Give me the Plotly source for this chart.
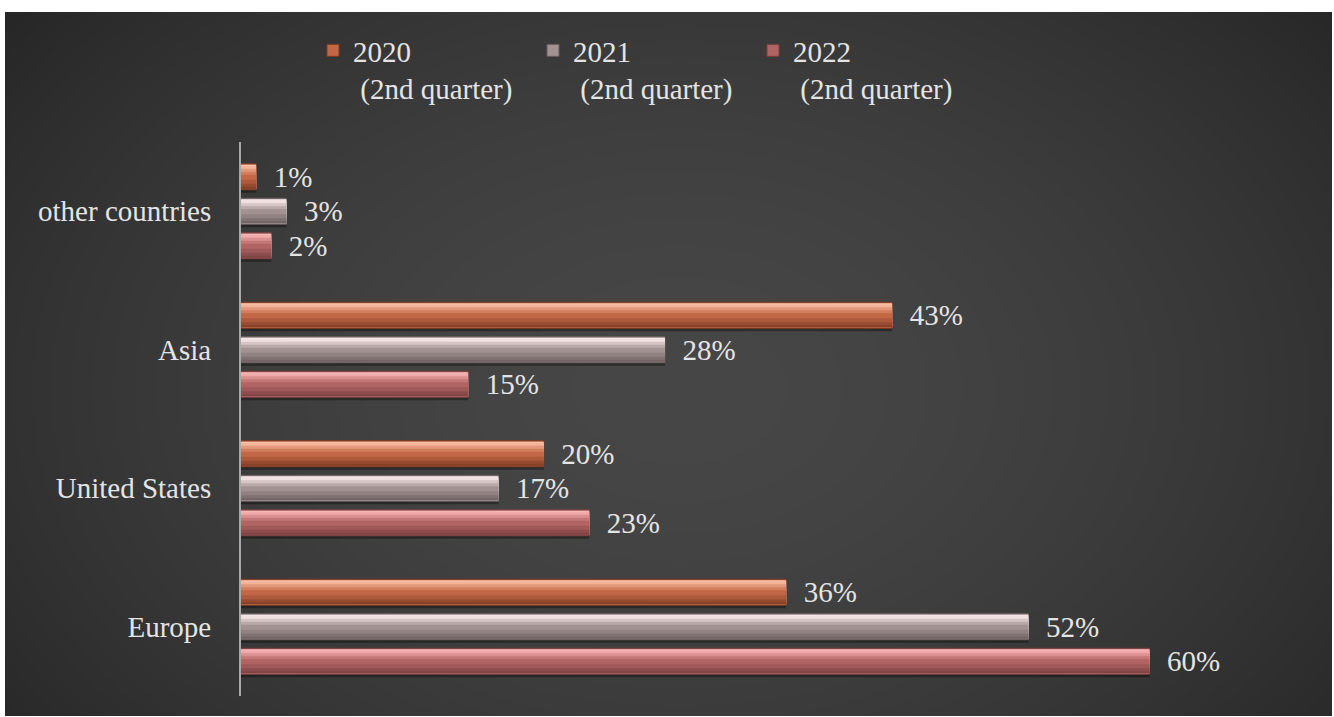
import plotly.graph_objects as go

# ---- data -------------------------------------------------------------
categories = ["Europe", "United States", "Asia", "other countries"]
series_names = ["2020<br>\u00a0(2nd quarter)",
                "2021<br>\u00a0(2nd quarter)",
                "2022<br>\u00a0(2nd quarter)"]
v2020 = [36, 20, 43, 1]
v2021 = [52, 17, 28, 3]
v2022 = [60, 23, 15, 2]
series_values = [v2020, v2021, v2022]

# ---- styling ----------------------------------------------------------
FONT = "Liberation Serif"
TEXT = "#e4e4e4"
# light / mid / dark tones for the bevelled bars
palettes = [
    ("#f4b297", "#c26846", "#7a3a22"),
    ("#f0e0e0", "#a29292", "#6a5c5c"),
    ("#f0a8a8", "#b06464", "#783e3e"),
]

W, H = 1334, 717
L, R, T, B = 241, 33, 142, 21
PW, PH = W - L - R, H - T - B
UNIT = PH / 4.0          # pixels per category slot
XMAX = 70


def px_x(px):
    return (px - L) / PW


def px_y(py):
    return (H - B - py) / PH


def mix(c1, c2, t):
    a = [int(c1[i:i + 2], 16) for i in (1, 3, 5)]
    b = [int(c2[i:i + 2], 16) for i in (1, 3, 5)]
    return "#%02x%02x%02x" % tuple(round(a[i] + (b[i] - a[i]) * t) for i in range(3))


ypos = list(range(len(categories)))
BAR_PX = 26
STEP_PX = 34.5
centers_px = [STEP_PX, 0, -STEP_PX]   # upward offset of each series inside a group

fig = go.Figure()

for k, (name, vals) in enumerate(zip(series_names, series_values)):
    light, mid, dark = palettes[k]
    top_px = centers_px[k] + BAR_PX / 2.0   # top edge relative to category centre (px, upward)
    n = len(vals)

    def strip(y0, y1, color):
        # y0, y1: pixel distances from the bar's top edge (downwards)
        off = (top_px - y1) / UNIT
        wid = (y1 - y0) / UNIT
        return go.Bar(y=ypos, x=vals, orientation="h",
                      width=[wid] * n, offset=[off] * n,
                      marker=dict(color=color, line=dict(width=0)),
                      hoverinfo="skip", showlegend=False)

    # soft shadow under the bar
    fig.add_trace(strip(3, BAR_PX + 3, "rgba(0,0,0,0.35)"))

    # main bar carrying the label and the legend entry
    off = (top_px - BAR_PX) / UNIT
    fig.add_trace(go.Bar(
        y=ypos, x=vals, orientation="h", name=name,
        width=[BAR_PX / UNIT] * n, offset=[off] * n,
        marker=dict(color=mid, line=dict(color=dark, width=1)),
        text=vals, texttemplate="\u00a0\u00a0%{x}%", textposition="outside",
        textfont=dict(family=FONT, size=29, color=TEXT),
        constraintext="none", cliponaxis=False, hoverinfo="skip",
        legendgroup=str(k), showlegend=True,
    ))

    # bevel: each band runs from its start down to the lower rim, so later
    # bands cover the lower part of earlier ones and no seams show
    bands = [
        (1, mix(light, "#ffffff", 0.2)),
        (2.5, light),
        (5, mix(light, mid, 0.35)),
        (8, mix(light, mid, 0.7)),
        (11, mid),
        (16, mix(mid, dark, 0.3)),
        (20, mix(mid, dark, 0.6)),
        (23, mix(mid, dark, 0.85)),
    ]
    for y0, c in bands:
        fig.add_trace(strip(y0, 25, c))

# ---- background: dark panel with a soft radial glow ----------------------
shapes = [dict(type="rect", xref="paper", yref="paper", layer="below",
               x0=px_x(5), x1=px_x(1332), y0=px_y(716), y1=px_y(12),
               fillcolor="#262626", line=dict(width=0))]
cx, cy = 680, 390
N = 32
for i in range(N, 0, -1):
    f = (i / N) ** 0.6
    rx = 860 * f
    ry = 600 * f
    shapes.append(dict(type="circle", xref="paper", yref="paper", layer="below",
                       x0=px_x(cx - rx), x1=px_x(cx + rx),
                       y0=px_y(cy + ry), y1=px_y(cy - ry),
                       fillcolor="rgba(255,255,255,0.0088)", line=dict(width=0)))

fig.update_layout(
    width=W, height=H,
    margin=dict(l=L, r=R, t=T, b=B, autoexpand=False),
    paper_bgcolor="white", plot_bgcolor="rgba(0,0,0,0)",
    barmode="overlay",
    shapes=shapes,
    font=dict(family=FONT, size=29, color=TEXT),
    legend=dict(orientation="h", x=px_x(313), y=px_y(25), xanchor="left", yanchor="top",
                valign="top", entrywidth=175, entrywidthmode="pixels",
                font=dict(family=FONT, size=29, color=TEXT),
                bgcolor="rgba(0,0,0,0)", traceorder="normal", itemclick=False),
    xaxis=dict(range=[0, XMAX], visible=False, fixedrange=True),
    yaxis=dict(range=[-0.5, 3.5], tickvals=ypos, ticktext=categories,
               showline=True, linecolor="#a8a8a8", linewidth=2, ticks="",
               showgrid=False, zeroline=False, ticklabelstandoff=22,
               tickfont=dict(family=FONT, size=29, color=TEXT), fixedrange=True),
    showlegend=True,
)

fig.write_html("out.html", config={"displayModeBar": False})
